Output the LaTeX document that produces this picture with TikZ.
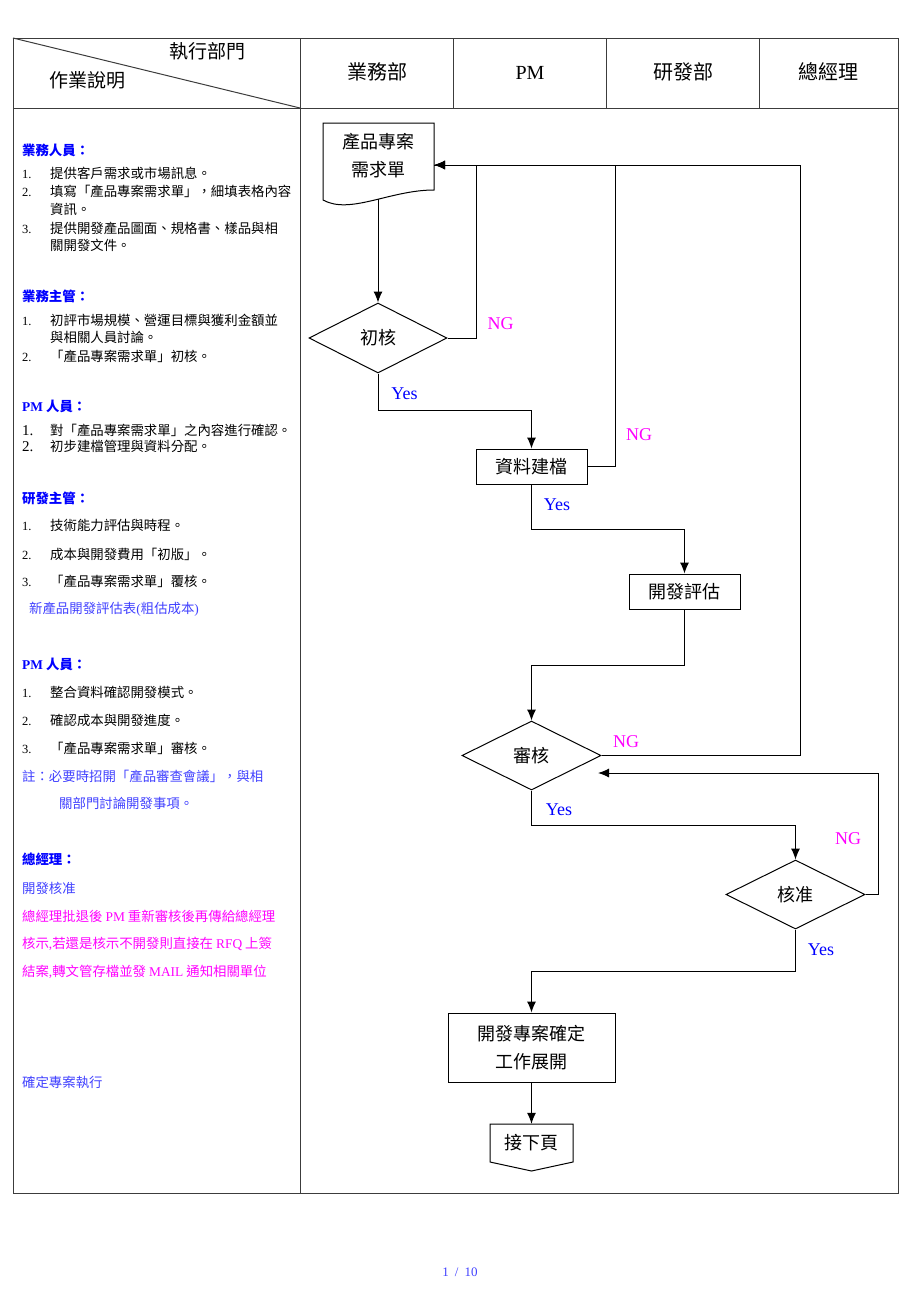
\documentclass[tikz,border=0pt]{standalone}
\usepackage{fontspec}
\setmainfont{Liberation Serif}
\newfontfamily\cjk{Noto Sans CJK TC}
\usetikzlibrary{shapes.geometric,arrows.meta}
\definecolor{headBlue}{RGB}{0,0,255}
\definecolor{noteBlue}{RGB}{64,64,255}
\definecolor{ngColor}{RGB}{255,0,255}
\definecolor{gridColor}{RGB}{60,60,60}
\tikzstyle{sheet} = [x = 1pt, y = -1pt]
\tikzstyle{gridLine} = [color=gridColor, line width=1pt]
\tikzstyle{flowLine} = [line width=1pt]
\tikzstyle{flowArrow} = [flowLine, -{Latex[length=11pt, width=9pt]}]
\tikzstyle{stepBox} = [draw, flowLine, rectangle, inner sep=0, align=center, font=\cjk\fontsize{18}{28}\selectfont]
\tikzstyle{decision} = [draw, flowLine, diamond, aspect=2, inner sep=0, font=\cjk\fontsize{18}{18}\selectfont]
\tikzstyle{ngLabel} = [text=ngColor, inner sep=0, font=\fontsize{18}{18}\selectfont]
\tikzstyle{yesLabel} = [text=headBlue, inner sep=0, font=\fontsize{18}{18}\selectfont]
\tikzstyle{headText} = [inner sep=0, font=\cjk\fontsize{19}{19}\selectfont]
\tikzstyle{noteText} = [anchor=base west, inner sep=0, font=\cjk\fontsize{13.4}{16}\selectfont]
\tikzstyle{noteHead} = [noteText, text=headBlue, font=\cjk\bfseries\fontsize{13.4}{16}\selectfont]
\newcommand{\numFont}{\fontsize{12.5}{12.5}\selectfont}
\newcommand{\bigNum}{\fontsize{15}{15}\selectfont}

\begin{document}
\begin{tikzpicture}[sheet]
  \useasboundingbox (0,0) rectangle (920,1302);
  \draw [gridLine] (13,38) rectangle (898,1193);
  \draw [gridLine] (13,108) -- (898,108);
  \draw [gridLine] (300,38) -- (300,1193);
  \foreach \colX in {453,606,759}
    \draw [gridLine] (\colX,38) -- (\colX,108);
  \draw [gridLine] (13,38) -- (300,108);

  \node [headText] (execDept) at (207,51) {執行部門};
  \node [headText] (workNote) at (87,80) {作業說明};
  \foreach \colX/\colName/\colText in {377/salesCol/業務部, 683/rdCol/研發部, 828/gmCol/總經理}
    \node [headText, font=\cjk\fontsize{20}{20}\selectfont] (\colName) at (\colX,72) {\colText};
  \node [headText, font=\fontsize{20}{20}\selectfont] (pmCol) at (530,73) {PM};

  \foreach \y/\txt [count=\i] in {150.7/業務人員：, 296.7/業務主管：, 406/{{\rmfamily PM} 人員：},
      498.3/研發主管：, 664/{{\rmfamily PM} 人員：}, 859.3/總經理：}
    \node [noteHead] (head\i) at (22,\y+5) {\txt};
  \foreach \y/\num/\txt [count=\i] in {
      173/1./提供客戶需求或市場訊息。,
      191.7/2./填寫「產品專案需求單」，細填表格內容,
      209.3//資訊。,
      228.3/3./提供開發產品圖面、規格書、樣品與相,
      245.7//關開發文件。,
      320/1./初評市場規模、營運目標與獲利金額並,
      337.3//與相關人員討論。,
      356/2./「產品專案需求單」初核。,
      430/{\bigNum 1.}/對「產品專案需求單」之內容進行確認。,
      446/{\bigNum 2.}/初步建檔管理與資料分配。,
      525.7/1./技術能力評估與時程。,
      554/2./成本與開發費用「初版」。,
      581.7/3./「產品專案需求單」覆核。,
      692.7/1./整合資料確認開發模式。,
      720.7/2./確認成本與開發進度。,
      748.3/3./「產品專案需求單」審核。} {
    \node [noteText] (num\i) at (22,\y+5) {\rmfamily\numFont\num};
    \node [noteText] (txt\i) at (50,\y+5) {\txt};
  }
  \node [noteText, text=noteBlue] (evalForm) at (29,613.3) {新產品開發評估表{\rmfamily(}粗估成本{\rmfamily)}};
  \node [noteText, text=noteBlue] (meetNote) at (22,781) {註：必要時招開「產品審查會議」，與相};
  \node [noteText, text=noteBlue] (meetNoteB) at (59,808.3) {關部門討論開發事項。};
  \node [noteText, text=noteBlue] (gmApprove) at (22,893.3) {開發核准};
  \node [noteText, text=ngColor] (gmBackA) at (22,921) {總經理批退後 {\rmfamily PM} 重新審核後再傳給總經理};
  \node [noteText, text=ngColor] (gmBackB) at (22,948.3) {核示{\rmfamily,}若還是核示不開發則直接在 {\rmfamily RFQ} 上簽};
  \node [noteText, text=ngColor] (gmBackC) at (22,976) {結案{\rmfamily,}轉文管存檔並發 {\rmfamily MAIL} 通知相關單位};
  \node [noteText, text=noteBlue] (goAhead) at (22,1087.7) {確定專案執行};

  \draw [flowLine] (323,123) -- (434,123) -- (434,190) .. controls (390,190) and (350,215) .. (323,200) -- cycle;
  \node [align=center, font=\cjk\fontsize{18}{28}\selectfont] (reqForm) at (378.5,156) {產品專案\\需求單};
  \coordinate (reqFormIn) at (434,165);
  \coordinate (reqFormOut) at (378,199);
  \node [decision, minimum width=138, minimum height=70] (firstCheck) at (378,338) {初核};
  \node [stepBox, minimum width=111, minimum height=35] (fileData) at (531.5,466.5) {資料建檔};
  \node [stepBox, minimum width=111, minimum height=35] (devEval) at (684.5,591.5) {開發評估};
  \node [decision, minimum width=139, minimum height=69] (pmCheck) at (531.5,755.5) {審核};
  \node [decision, minimum width=139, minimum height=69] (gmCheck) at (795.5,894.5) {核准};
  \node [stepBox, minimum width=167, minimum height=69] (projStart) at (531.5,1047.5) {開發專案確定\\工作展開};
  \draw [flowLine] (490,1124) -- (573,1124) -- (573,1162) -- (531.5,1171) -- (490,1162) -- cycle;
  \node [minimum width=83, minimum height=38, inner sep=0, font=\cjk\fontsize{18}{18}\selectfont] (nextPage) at (531.5,1143) {接下頁};
  \coordinate (pmCheckIn) at (598,773);

  \draw [flowArrow] (reqFormOut) -- (firstCheck.north);
  \draw [flowArrow] (firstCheck.east) -- ++(29,0) |- (reqFormIn);
  \draw [flowArrow] (firstCheck.south) -- ++(0,37) -| (fileData.north);
  \draw [flowLine] (fileData.east) -- ++(28,0) |- (reqFormIn);
  \draw [flowArrow] (fileData.south) -- ++(0,45) -| (devEval.north);
  \draw [flowArrow] (devEval.south) -- ++(0,56) -| (pmCheck.north);
  \draw [flowArrow] (pmCheck.east) -- ++(199,0) |- (reqFormIn);
  \draw [flowArrow] (pmCheck.south) -- ++(0,35) -| (gmCheck.north);
  \draw [flowArrow] (gmCheck.east) -- ++(13,0) |- (pmCheckIn);
  \draw [flowArrow] (gmCheck.south) -- ++(0,42) -| (projStart.north);
  \draw [flowArrow] (projStart.south) -- (nextPage.north);

  \node [ngLabel] (ngA) at (500.5,323.7) {NG};
  \node [ngLabel] (ngB) at (639,435) {NG};
  \node [ngLabel] (ngC) at (626,741.5) {NG};
  \node [ngLabel] (ngD) at (848,838.5) {NG};
  \node [yesLabel] (yesA) at (404.5,393.7) {Yes};
  \node [yesLabel] (yesB) at (557,505) {Yes};
  \node [yesLabel] (yesC) at (559,810) {Yes};
  \node [yesLabel] (yesD) at (821,950) {Yes};

  \node [text=noteBlue, font=\fontsize{13}{13}\selectfont] (pageNum) at (460,1272) {1\hspace{6pt}/\hspace{6pt}10};
\end{tikzpicture}
\end{document}
